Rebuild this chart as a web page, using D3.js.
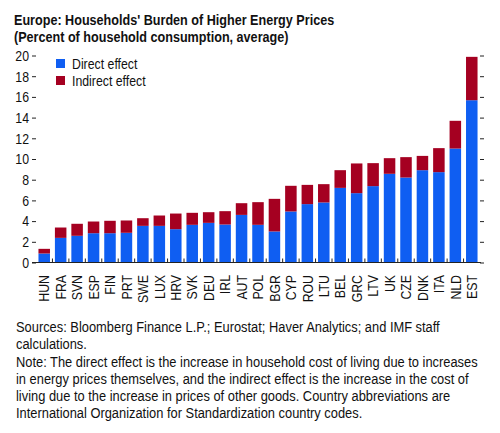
<!DOCTYPE html>
<html lang="en">
<head>
<meta charset="utf-8">
<title>Europe: Households' Burden of Higher Energy Prices</title>
<script src="https://d3js.org/d3.v7.min.js"></script>
<style>
  body { margin: 0; background: #fff; }
  svg text { font-family: "Liberation Sans Narrow", "Arial Narrow", "Liberation Sans", sans-serif; fill: #111; }
  .title { font-weight: bold; font-size: 15px; }
  .note { font-size: 14.5px; }
</style>
</head>
<body>
<script>
// country codes, sorted by total burden
var countries = ["HUN","FRA","SVN","ESP","FIN","PRT","SWE","LUX","HRV","SVK","DEU","IRL","AUT",
                 "POL","BGR","CYP","ROU","LTU","BEL","GRC","LTV","UK","CZE","DNK","ITA","NLD","EST"]

// direct effect (percent of household consumption)
var direct = [0.87, 2.38, 2.58, 2.83, 2.83, 2.87, 3.54, 3.54, 3.22, 3.64, 3.83, 3.67, 4.6,
              3.64, 3.0, 4.93, 5.64, 5.8, 7.21, 6.7, 7.38, 8.57, 8.21, 8.92, 8.73, 11.01, 15.68]

// indirect effect
var indirect = [0.45, 1.0, 1.16, 1.13, 1.2, 1.19, 0.74, 1.0, 1.51, 1.16, 1.03, 1.29, 1.13,
                2.19, 3.15, 2.48, 1.86, 1.77, 1.71, 2.87, 2.22, 1.51, 1.97, 1.38, 2.32, 2.68, 4.19]

var yTicks = [0, 2, 4, 6, 8, 10, 12, 14, 16, 18, 20]

var seriesNames = ["Direct effect", "Indirect effect"]
var seriesColors = ["#0f5ef2", "#a50021"]

var titleLines = ["Europe: Households' Burden of Higher Energy Prices",
                  "(Percent of household consumption, average)"]

var noteLines = [
  "Sources: Bloomberg Finance L.P.; Eurostat; Haver Analytics; and IMF staff",
  "calculations.",
  "Note: The direct effect is the increase in household cost of living due to increases",
  "in energy prices themselves, and the indirect effect is the increase in the cost of",
  "living due to the increase in prices of other goods. Country abbreviations are",
  "International Organization for Standardization country codes."
]

var width = 500
var height = 433

// no narrow face is installed, so squeeze text to look condensed
function condense(sel, k) {
    sel.each(function() {
        var len = this.getComputedTextLength()
        d3.select(this).attr("textLength", len * k).attr("lengthAdjust", "spacingAndGlyphs")
    })
}

var svg = d3.select("body").append("svg")
    .attr("width", width)
    .attr("height", height)

// title
svg.selectAll("text.title")
    .data(titleLines)
    .enter().append("text")
    .attr("class", "title")
    .attr("x", 14)
    .attr("y", function(d, i) { return 25 + i * 16.5 })
    .text(function(d) { return d })
    .call(condense, 0.84)

// scales
var x = d3.scaleBand()
    .domain(countries)
    .range([36, 480])
    .paddingInner(0.3)
    .paddingOuter(0.15)

var y = d3.scaleLinear()
    .domain([0, 20])
    .range([262.5, 55.5])

// stack the two series
var rows = countries.map(function(c, i) {
    return { country: c, direct: direct[i], indirect: indirect[i] }
})
var stack = d3.stack().keys(["direct", "indirect"])(rows)

svg.append("g")
    .selectAll("g")
    .data(stack)
    .enter().append("g")
    .attr("fill", function(d, i) { return seriesColors[i] })
    .selectAll("rect")
    .data(function(d) { return d })
    .enter().append("rect")
    .attr("x", function(d) { return x(d.data.country) })
    .attr("width", x.bandwidth())
    .attr("y", function(d) { return y(d[1]) })
    .attr("height", function(d) { return y(d[0]) - y(d[1]) })

// left axis: labels + short ticks, no line
var yAxis = svg.append("g")
    .attr("transform", "translate(36,0)")
    .call(d3.axisLeft(y).tickValues(yTicks).tickSize(4).tickPadding(3))
yAxis.select(".domain").remove()
yAxis.selectAll("text").style("font-size", "15px").call(condense, 0.82)
yAxis.selectAll("line").attr("stroke", "#222")

// right axis: ticks only
var yAxisR = svg.append("g")
    .attr("transform", "translate(480,0)")
    .call(d3.axisRight(y).tickValues(yTicks).tickSize(4).tickFormat(""))
yAxisR.select(".domain").remove()
yAxisR.selectAll("line").attr("stroke", "#222")

// bottom axis: line with little ticks between bars
var step = x.step()
var bounds = countries.slice(1).map(function(c) { return x(c) - x.paddingInner() * step / 2 })
svg.append("g")
    .selectAll("line")
    .data(bounds)
    .enter().append("line")
    .attr("x1", function(d) { return d })
    .attr("x2", function(d) { return d })
    .attr("y1", y(0))
    .attr("y2", y(0) - 4)
    .attr("stroke", "#222")

svg.append("line")
    .attr("x1", 32)
    .attr("x2", 481)
    .attr("y1", y(0))
    .attr("y2", y(0))
    .attr("stroke", "#222")
    .attr("stroke-width", 1.2)

// country labels, rotated
svg.append("g")
    .selectAll("text")
    .data(countries)
    .enter().append("text")
    .attr("transform", function(d) {
        return "translate(" + (x(d) + x.bandwidth() / 2) + "," + 275 + ") rotate(-90)"
    })
    .attr("text-anchor", "end")
    .attr("dy", "0.35em")
    .style("font-size", "15px")
    .text(function(d) { return d })
    .call(condense, 0.82)

// legend
var legend = svg.append("g")
    .selectAll("g")
    .data(seriesNames)
    .enter().append("g")
    .attr("transform", function(d, i) { return "translate(56," + (59 + i * 17) + ")" })

legend.append("rect")
    .attr("width", 9)
    .attr("height", 9)
    .attr("fill", function(d, i) { return seriesColors[i] })

legend.append("text")
    .attr("x", 16)
    .attr("y", 9.5)
    .style("font-size", "15px")
    .text(function(d) { return d })
    .call(condense, 0.82)

// sources and note: squeeze the block horizontally so the longest line is 462px wide
var notes = svg.append("g")
var noteText = notes.selectAll("text")
    .data(noteLines)
    .enter().append("text")
    .attr("class", "note")
    .attr("x", 0)
    .attr("y", function(d, i) { return 332 + i * 17.3 })
    .text(function(d) { return d })
var longest = d3.max(noteText.nodes(), function(n) { return n.getComputedTextLength() })
notes.attr("transform", "translate(16,0) scale(" + (462 / longest) + ",1)")
</script>
</body>
</html>
